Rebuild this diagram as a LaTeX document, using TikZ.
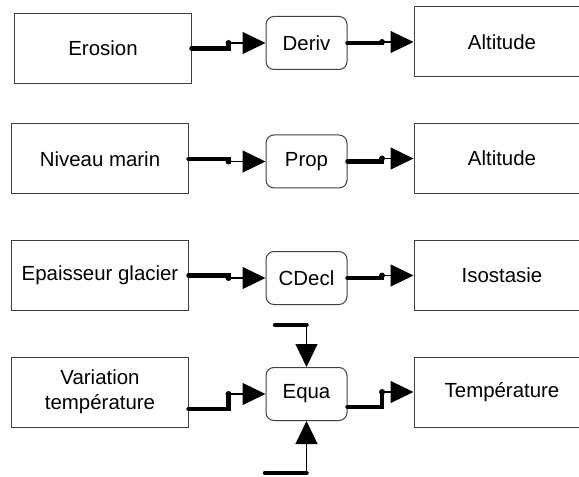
\documentclass[tikz,border=0pt]{standalone}
\usepackage{fontspec}
\setmainfont{Liberation Sans}
\usetikzlibrary{arrows.meta}

\begin{document}
\begin{tikzpicture}[x=1bp,y=-1bp]
  \tikzset{BoxStyle/.style = {
    shape         = rectangle,
    draw          = black!75,
    fill          = white,
    line width    = 1bp,
    text          = black,
    align         = center,
    inner sep     = 2bp,
    minimum width = 176bp,
    minimum height= 70bp,
    font          = \fontsize{20.5}{25}\selectfont
    }
  }
  \tikzset{BlockStyle/.style = {
    shape         = rectangle,
    rounded corners = 8bp,
    draw          = black!75,
    fill          = white,
    line width    = 1bp,
    text          = black,
    inner sep     = 2bp,
    minimum width = 81bp,
    minimum height= 53bp,
    font          = \fontsize{20.5}{25}\selectfont
    }
  }
  \tikzset{WireStyle/.style = {
    draw          = black,
    line width    = 4.5bp,
    line cap      = round
    }
  }
  \tikzset{LinkStyle/.style = {
    draw          = black,
    line width    = 1.2bp,
    -{Triangle[length=23bp,width=22bp]}
    }
  }
  \useasboundingbox (0,0) rectangle (579,477);

  \node[BoxStyle](L1) at (103, 48.5) {Erosion};
  \node[BoxStyle](L2) at (100, 159) {Niveau marin};
  \node[BoxStyle](L3) at (100, 275.5) {Epaisseur glacier};
  \node[BoxStyle](L4) at (100, 392) {Variation\\température};
  \node[BlockStyle](B1) at (306.5, 43) {Deriv};
  \node[BlockStyle](B2) at (306.5, 161.5) {Prop};
  \node[BlockStyle](B3) at (306.5, 278) {CDecl};
  \node[BlockStyle](B4) at (306.5, 394) {Equa};
  \node[BoxStyle](R1) at (502, 42) {Altitude};
  \node[BoxStyle](R2) at (502, 158.5) {Altitude};
  \node[BoxStyle](R3) at (502, 275.5) {Isostasie};
  \node[BoxStyle](R4) at (502, 392) {Température};

  \coordinate(I1) at (228.5, 43);
  \coordinate(I2) at (228.5, 161.5);
  \coordinate(I3) at (228.5, 278);
  \coordinate(I4) at (228.5, 394);
  \coordinate(O1) at (382, 42);
  \coordinate(O2) at (382, 158.5);
  \coordinate(O3) at (382, 275.5);
  \coordinate(O4) at (382, 392);
  \coordinate(T1) at (275, 325);
  \coordinate(T2) at (306.5, 325);
  \coordinate(U1) at (265, 473);
  \coordinate(U2) at (306.5, 473);

  \draw[WireStyle](L1.east) -| (I1);
  \draw[WireStyle](L2.east) -| (I2);
  \draw[WireStyle](L3.east) -| (I3);
  \draw[WireStyle]([yshift=-17bp]L4.east) -| (I4);
  \draw[WireStyle](B1.east) -| (O1);
  \draw[WireStyle](B2.east) -| (O2);
  \draw[WireStyle](B3.east) -| (O3);
  \draw[WireStyle]([yshift=-13bp]B4.east) -| (O4);
  \draw[WireStyle](T1) -- (T2);
  \draw[WireStyle](U1) -- (U2);

  \foreach \j in {I1,I2,I3,I4,O1,O2,O3,O4}
    \fill (\j) circle (3bp);

  \draw[LinkStyle](I1) -- (B1.west);
  \draw[LinkStyle](I2) -- (B2.west);
  \draw[LinkStyle](I3) -- (B3.west);
  \draw[LinkStyle](I4) -- (B4.west);
  \draw[LinkStyle](O1) -- (R1.west);
  \draw[LinkStyle](O2) -- (R2.west);
  \draw[LinkStyle](O3) -- (R3.west);
  \draw[LinkStyle](O4) -- (R4.west);
  \draw[LinkStyle](T2) -- (B4.north);
  \draw[LinkStyle](U2) -- (B4.south);
\end{tikzpicture}
\end{document}
